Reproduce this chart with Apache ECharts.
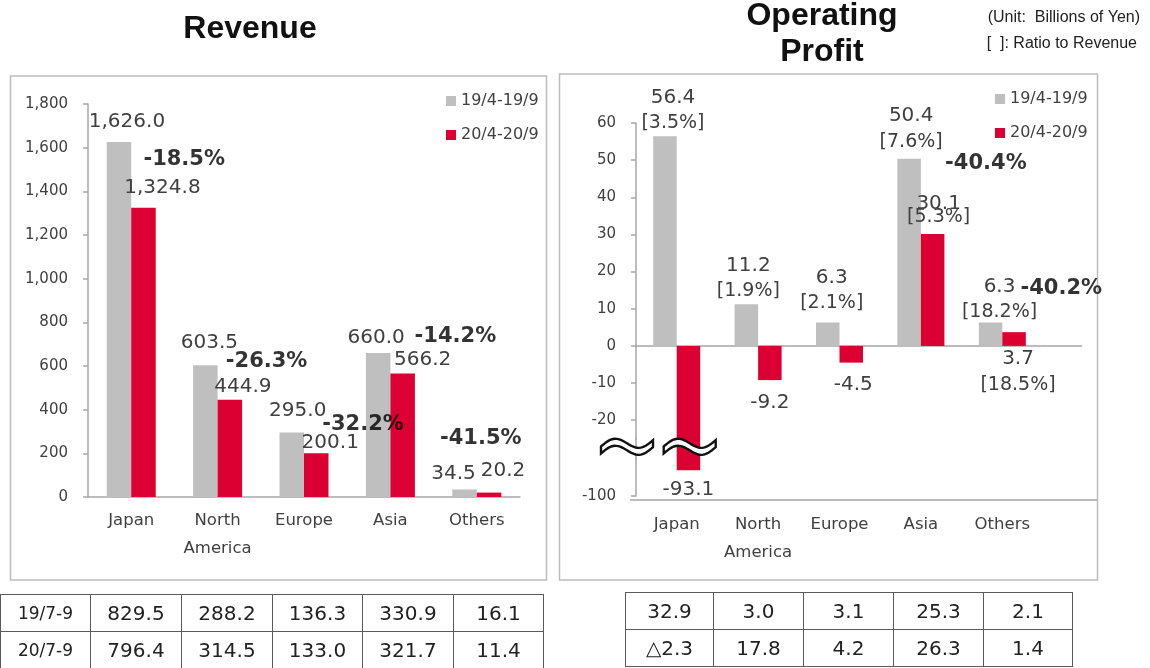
<!DOCTYPE html>
<html>
<head>
<meta charset="utf-8">
<script src="https://cdn.jsdelivr.net/npm/echarts@6.0.0/dist/echarts.min.js"></script>
<style>
  body { margin: 0; background: #fff; }
  #chart { position: absolute; left: 0; top: 0; width: 1150px; height: 668px; }
  table.q { position: absolute; border-collapse: collapse; font-family: 'DejaVu Sans', sans-serif; color: #222; }
  table.q td { border: 1.5px solid #5a5a5a; height: 36px; padding: 0; text-align: center; font-size: 20px; }
  table.q td.lbl { font-size: 17px; }
</style>
</head>
<body>
<div id="chart"></div>
<table class="q" id="revTable" style="left:0px; top:594px;"></table>
<table class="q" id="opTable" style="left:625px; top:592px;"></table>
<script>
// ---- data ----
const categories = ['Japan', 'North\nAmerica', 'Europe', 'Asia', 'Others'];
const legendNames = ['19/4-19/9', '20/4-20/9'];
const revPrev = [1626.0, 603.5, 295.0, 660.0, 34.5];
const revCurr = [1324.8, 444.9, 200.1, 566.2, 20.2];
const revChange = ['-18.5%', '-26.3%', '-32.2%', '-14.2%', '-41.5%'];
const opPrev = [56.4, 11.2, 6.3, 50.4, 6.3];
const opCurr = [-93.1, -9.2, -4.5, 30.1, 3.7];
const opRatioPrev = ['3.5%', '1.9%', '2.1%', '7.6%', '18.2%'];
const opRatioCurr = ['', '', '', '5.3%', '18.5%'];
const opChange = ['', '', '', '-40.4%', '-40.2%'];
const revTicks = [0, 200, 400, 600, 800, 1000, 1200, 1400, 1600, 1800];
const opTicks = [60, 50, 40, 30, 20, 10, 0, -10, -20, -100];
const quarterRows = ['19/7-9', '20/7-9'];
const revQuarter19 = [829.5, 288.2, 136.3, 330.9, 16.1];
const revQuarter20 = [796.4, 314.5, 133.0, 321.7, 11.4];
const opQuarter19 = [32.9, 3.0, 3.1, 25.3, 2.1];
const opQuarter20 = [-2.3, 17.8, 4.2, 26.3, 1.4];

// label nudges (layout only, px)
const revPrevOffset = [[8, -10], [4, -12], [6, -12], [-2, -5], [-11, -6]];
const revCurrOffset = [[19, -10], [13, -3], [14, -1], [20, -4], [14, -12]];
const revChangeOffset = [[53, -48], [49, -38], [59, -29], [65, -37], [4, -54]];
const opPrevOffset = [[8, 0], [2, 0], [4, -6], [2, -4], [9, 3]];
const opCurrOffset = [[0, 6], [0, 10], [2, 9], [6, -11], [4, 0]];
const opChangeOffset = [null, null, null, [65, -71], [59, -44]];

const GRAY = '#BFBFBF';
const RED = '#DC0032';
const FONT = 'DejaVu Sans';
const TXT = '#404040';
const AXIS = '#A6A6A6';

function fmtRev(v) {
  return v.toLocaleString('en-US', { minimumFractionDigits: 1, maximumFractionDigits: 1 });
}
function fmtOp(v) {
  return v < 0 ? '△' + Math.abs(v).toFixed(1) : v.toFixed(1);
}

// ---- tables ----
function fillTable(id, rows) {
  const t = document.getElementById(id);
  rows.forEach(r => {
    const tr = document.createElement('tr');
    r.cells.forEach((c, i) => {
      const td = document.createElement('td');
      td.textContent = c;
      td.style.width = r.widths[i] + 'px';
      if (r.lblIdx === i) td.className = 'lbl';
      tr.appendChild(td);
    });
    t.appendChild(tr);
  });
}
const revW = [89, 90, 90, 89, 90, 89];
fillTable('revTable', [
  { cells: [quarterRows[0]].concat(revQuarter19.map(fmtRev)), widths: revW, lblIdx: 0 },
  { cells: [quarterRows[1]].concat(revQuarter20.map(fmtRev)), widths: revW, lblIdx: 0 }
]);
const opW = [87, 89, 89, 89, 88];
fillTable('opTable', [
  { cells: opQuarter19.map(fmtOp), widths: opW },
  { cells: opQuarter20.map(fmtOp), widths: opW }
]);

// ---- chart ----
const chart = echarts.init(document.getElementById('chart'));

const baseLabel = { fontFamily: FONT, fontSize: 20, color: TXT };
const opRich = {
  v: { fontFamily: FONT, fontSize: 20, color: TXT, lineHeight: 26 },
  r: { fontFamily: FONT, fontSize: 19, color: TXT, lineHeight: 26 }
};

const option = {
  animation: false,
  backgroundColor: '#fff',
  textStyle: { fontFamily: FONT },
  legend: [
    {
      left: 441, top: 87, orient: 'vertical', icon: 'rect',
      itemWidth: 10, itemHeight: 10, itemGap: 16,
      textStyle: { fontSize: 16, lineHeight: 18, color: TXT, fontFamily: FONT },
      data: legendNames
    },
    {
      left: 990, top: 85, orient: 'vertical', icon: 'rect',
      itemWidth: 10, itemHeight: 10, itemGap: 16,
      textStyle: { fontSize: 16, lineHeight: 18, color: TXT, fontFamily: FONT },
      data: legendNames
    }
  ],
  grid: [
    { left: 88, right: 630, top: 104, bottom: 171 },
    { left: 636, right: 107, top: 123, bottom: 172 }
  ],
  xAxis: [
    {
      type: 'category', gridIndex: 0, data: categories,
      axisLine: { lineStyle: { color: AXIS, width: 1.5 } },
      axisTick: { length: 6, lineStyle: { color: AXIS, width: 1.5 } },
      axisLabel: { interval: 0, margin: 10, fontSize: 16.5, lineHeight: 28, color: TXT, fontFamily: FONT }
    },
    {
      type: 'category', gridIndex: 1, data: categories,
      axisLine: { onZero: true, lineStyle: { color: AXIS, width: 1.5 } },
      axisTick: { length: 10, lineStyle: { color: AXIS, width: 1.5 } },
      axisLabel: { show: false }
    },
    {
      type: 'category', gridIndex: 1, data: categories, position: 'bottom',
      axisLine: { show: false, onZero: false },
      axisTick: { show: false },
      axisLabel: { interval: 0, margin: 15, fontSize: 16.5, lineHeight: 28, color: TXT, fontFamily: FONT }
    }
  ],
  yAxis: [
    {
      type: 'value', gridIndex: 0, min: 0, max: 1800, interval: 200,
      axisLine: { show: true, lineStyle: { color: AXIS, width: 1.5 } },
      axisTick: { show: true, length: 5, lineStyle: { color: AXIS, width: 1.5 } },
      splitLine: { show: false },
      axisLabel: {
        margin: 20, fontSize: 15, color: TXT, fontFamily: FONT,
        formatter: v => revTicks.includes(v) ? v.toLocaleString('en-US') : ''
      }
    },
    {
      type: 'value', gridIndex: 1, min: -100, max: 60, interval: 10,
      breaks: [{ start: -90, end: -25, gap: 5.4 }],
      breakArea: { show: false },
      axisLine: { show: true, lineStyle: { color: AXIS, width: 1.5 } },
      axisTick: { show: true, length: 5, customValues: opTicks, lineStyle: { color: AXIS, width: 1.5 } },
      splitLine: { show: false },
      axisLabel: {
        margin: 20, fontSize: 15, color: TXT, fontFamily: FONT, customValues: opTicks,
        formatter: v => opTicks.includes(v) ? String(v) : ''
      }
    }
  ],
  series: [
    {
      name: legendNames[0], type: 'bar', xAxisIndex: 0, yAxisIndex: 0,
      barWidth: 24.5, barGap: '0%', itemStyle: { color: GRAY },
      data: revPrev.map((v, i) => ({ value: v, label: { offset: revPrevOffset[i] } })),
      label: Object.assign({ show: true, position: 'top', distance: 0, lineHeight: 20,
        formatter: p => fmtRev(p.value) }, baseLabel)
    },
    {
      name: legendNames[1], type: 'bar', xAxisIndex: 0, yAxisIndex: 0,
      barWidth: 24.5, barGap: '0%', itemStyle: { color: RED },
      data: revCurr.map((v, i) => ({ value: v, label: { offset: revCurrOffset[i] } })),
      label: Object.assign({ show: true, position: 'top', distance: 0, lineHeight: 20,
        formatter: p => fmtRev(p.value) }, baseLabel)
    },
    {
      type: 'scatter', xAxisIndex: 0, yAxisIndex: 0, silent: true,
      symbolSize: 1, itemStyle: { color: 'rgba(0,0,0,0)' },
      data: revCurr.map((v, i) => ({ value: v, label: { offset: revChangeOffset[i] } })),
      label: {
        show: true, position: 'inside', fontFamily: FONT, fontSize: 21, fontWeight: 'bold', color: '#000',
        formatter: p => revChange[p.dataIndex]
      }
    },
    {
      name: legendNames[0], type: 'bar', xAxisIndex: 1, yAxisIndex: 1,
      barWidth: 23.5, barGap: '0%', itemStyle: { color: GRAY },
      data: opPrev.map((v, i) => ({ value: v, label: { offset: opPrevOffset[i] } })),
      label: {
        show: true, position: 'top', distance: 0,
        formatter: p => '{v|' + p.value.toFixed(1) + '}\n{r|[' + opRatioPrev[p.dataIndex] + ']}',
        rich: opRich
      }
    },
    {
      name: legendNames[1], type: 'bar', xAxisIndex: 1, yAxisIndex: 1,
      barWidth: 23.5, barGap: '0%', itemStyle: { color: RED },
      data: opCurr.map((v, i) => {
        const item = {
          value: v,
          label: { offset: opCurrOffset[i], position: (v < 0 || i === 4) ? 'bottom' : 'top' }
        };
        if (i === 3) {
          item.label.rich = {
            v: { fontFamily: FONT, fontSize: 20, color: TXT, lineHeight: 13 },
            r: { fontFamily: FONT, fontSize: 19, color: TXT, lineHeight: 13 }
          };
        }
        return item;
      }),
      label: {
        show: true, distance: 0,
        formatter: p => {
          const r = opRatioCurr[p.dataIndex];
          return '{v|' + p.value.toFixed(1) + '}' + (r ? '\n{r|[' + r + ']}' : '');
        },
        rich: opRich
      }
    },
    {
      type: 'scatter', xAxisIndex: 1, yAxisIndex: 1, silent: true,
      symbolSize: 1, itemStyle: { color: 'rgba(0,0,0,0)' },
      data: opCurr.map((v, i) => opChange[i] ? { value: v, label: { offset: opChangeOffset[i] } } : '-'),
      label: {
        show: true, position: 'inside', fontFamily: FONT, fontSize: 21, fontWeight: 'bold', color: '#000',
        formatter: p => opChange[p.dataIndex]
      }
    }
  ]
};

chart.setOption(option);

// decorations: panel boxes, titles, notes, axis break marks
const y0 = chart.convertToPixel({ yAxisIndex: 1 }, 0);
const yBrkA = chart.convertToPixel({ yAxisIndex: 1 }, -25);
const yBrkB = chart.convertToPixel({ yAxisIndex: 1 }, -90);
const yBrk = (yBrkA + yBrkB) / 2 - 1;
const xJapan = chart.convertToPixel({ xAxisIndex: 1 }, 0);

// double wavy break symbol, as a closed outline
function wavePoints(cx, cy) {
  const top = [], bottom = [];
  for (let k = 0; k <= 30; k++) {
    const t = -26 + k * 52 / 30;
    const y = -1 - 6 * Math.sin(2 * Math.PI * (t + 26) / 52) - 0.12 * t;
    top.push([cx + t, cy + y - 3.5]);
    bottom.push([cx + t, cy + y + 3.5]);
  }
  return top.concat(bottom.reverse());
}

chart.setOption({
  graphic: [
    { type: 'rect', shape: { x: 10.5, y: 76, width: 536, height: 504 }, style: { fill: 'none', stroke: '#BDBDBD', lineWidth: 1.5 }, z: 0 },
    { type: 'rect', shape: { x: 559.5, y: 74, width: 538, height: 506 }, style: { fill: 'none', stroke: '#BDBDBD', lineWidth: 1.5 }, z: 0 },
    { type: 'text', style: { text: 'Revenue', x: 250, y: 29, align: 'center', verticalAlign: 'middle', font: 'bold 32px "Liberation Sans"', fill: '#111' } },
    { type: 'text', style: { text: 'Operating', x: 822, y: 16, align: 'center', verticalAlign: 'middle', font: 'bold 32px "Liberation Sans"', fill: '#111' } },
    { type: 'text', style: { text: 'Profit', x: 822, y: 52, align: 'center', verticalAlign: 'middle', font: 'bold 32px "Liberation Sans"', fill: '#111' } },
    { type: 'text', style: { text: '(Unit:  Billions of Yen)', x: 1140, y: 18, align: 'right', verticalAlign: 'middle', font: '16px "Liberation Sans"', fill: '#222' } },
    { type: 'text', style: { text: '[  ]: Ratio to Revenue', x: 1137, y: 44, align: 'right', verticalAlign: 'middle', font: '16px "Liberation Sans"', fill: '#222' } },
    { type: 'line', shape: { x1: 1043, y1: y0, x2: 1082, y2: y0 }, style: { stroke: AXIS, lineWidth: 1.5 } },
    { type: 'line', shape: { x1: 630, y1: 500, x2: 1097, y2: 500 }, style: { stroke: AXIS, lineWidth: 1.5 } },
    { type: 'line', shape: { x1: 636, y1: yBrkA - 1, x2: 636, y2: yBrkB + 1 }, style: { stroke: AXIS, lineWidth: 1.5 } },
    { type: 'polygon', shape: { points: wavePoints(627, yBrk) }, style: { fill: '#fff', stroke: '#111', lineWidth: 2.4 }, z: 100 },
    { type: 'polygon', shape: { points: wavePoints(xJapan + 13, yBrk) }, style: { fill: '#fff', stroke: '#111', lineWidth: 2.4 }, z: 100 }
  ]
});
</script>
</body>
</html>
